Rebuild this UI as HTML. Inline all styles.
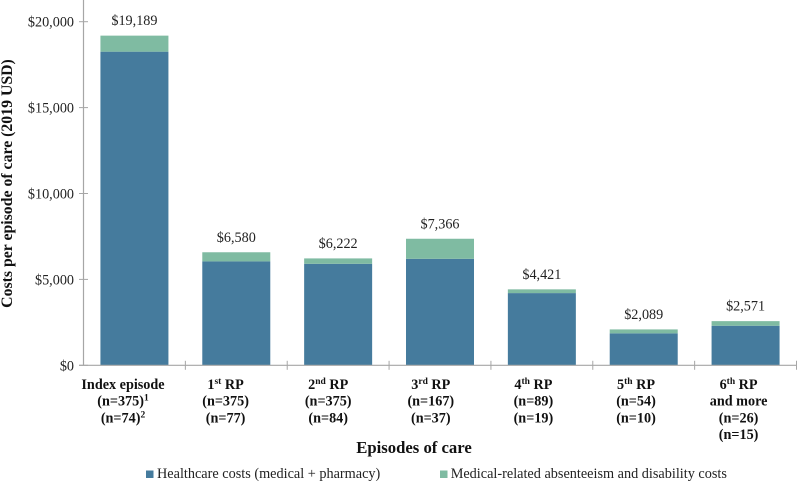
<!DOCTYPE html>
<html lang="en">
<head>
<meta charset="utf-8">
<title>Costs per episode of care</title>
<style>
html,body{margin:0;padding:0;background:#fff;}
svg{display:block;font-family:"Liberation Serif","Times New Roman",serif;}
</style>
</head>
<body>
<svg id="chart" xmlns="http://www.w3.org/2000/svg" width="797" height="482" viewBox="0 0 797 482">
  <rect x="0" y="0" width="797" height="482" fill="#ffffff"/>
  <text transform="translate(12,183.5) rotate(-90)" text-anchor="middle" font-size="15.8" font-weight="bold" fill="#111">Costs per episode of care (2019 USD)</text>
  <text x="414" y="453" text-anchor="middle" font-size="16.7" font-weight="bold" fill="#111">Episodes of care</text>
  <g>
    <rect x="146" y="470.5" width="7.5" height="7.5" fill="#457b9d"/>
    <text x="157" y="478" font-size="14.25" fill="#222">Healthcare costs (medical + pharmacy)</text>
    <rect x="440" y="470.5" width="7.5" height="7.5" fill="#7fbba2"/>
    <text x="450.7" y="478" font-size="14.25" fill="#222">Medical-related absenteeism and disability costs</text>
  </g>
</svg>
<script>
var categoryLabels = [
  ["Index episode", "(n=375)^1", "(n=74)^2"],
  ["1^st RP", "(n=375)", "(n=77)"],
  ["2^nd RP", "(n=375)", "(n=84)"],
  ["3^rd RP", "(n=167)", "(n=37)"],
  ["4^th RP", "(n=89)", "(n=19)"],
  ["5^th RP", "(n=54)", "(n=10)"],
  ["6^th RP", "and more", "(n=26)", "(n=15)"]
];
var healthcareCosts = [18256, 6047, 5907, 6198, 4203, 1860, 2302];
var absenteeismCosts = [933, 533, 315, 1168, 218, 229, 269];
var totalLabels = ["$19,189", "$6,580", "$6,222", "$7,366", "$4,421", "$2,089", "$2,571"];
var yTickValues = [0, 5000, 10000, 15000, 20000];
var yTickLabels = ["$0", "$5,000", "$10,000", "$15,000", "$20,000"];

var NS = "http://www.w3.org/2000/svg";
var svg = document.getElementById("chart");
var plot = { left: 83.5, right: 796.5, top: 21.7, bottom: 365.3, yMax: 20000 };
var BAR_WIDTH = 68;
var LABEL_FIRST_X = 123;
var LABEL_STEP_X = 102.6;

function yScale(v) {
  return plot.bottom - (v / plot.yMax) * (plot.bottom - plot.top);
}
function bandWidth() {
  return (plot.right - plot.left) / categoryLabels.length;
}
function xScale(i) {
  return plot.left + bandWidth() * i;
}
function xCenter(i) {
  return xScale(i) + bandWidth() / 2;
}
function labelX(i) {
  return LABEL_FIRST_X + LABEL_STEP_X * i;
}
function make(tag, attrs) {
  var el = document.createElementNS(NS, tag);
  for (var k in attrs) { el.setAttribute(k, attrs[k]); }
  return el;
}

categoryLabels.forEach(function (lines, i) {
  var cx = xCenter(i);
  var base = healthcareCosts[i];
  var top = base + absenteeismCosts[i];

  var blue = make("rect", {
    x: cx - BAR_WIDTH / 2, y: yScale(base), width: BAR_WIDTH,
    height: yScale(0) - yScale(base), fill: "#457b9d"
  });
  
  
  svg.appendChild(blue);

  var green = make("rect", {
    x: cx - BAR_WIDTH / 2, y: yScale(top), width: BAR_WIDTH,
    height: yScale(base) - yScale(top), fill: "#7fbba2"
  });
  
  
  svg.appendChild(green);

  var total = make("text", {
    x: cx, y: yScale(top) - 10.5, "text-anchor": "middle",
    "font-size": 14.2, fill: "#222"
  });
  total.textContent = totalLabels[i];
  
  
  svg.appendChild(total);

  lines.forEach(function (line, j) {
    var label = make("text", {
      x: labelX(i), y: 389 + j * 16.7, "text-anchor": "middle",
      "font-size": 14.2, "font-weight": "bold", fill: "#111"
    });
    
    
    var m = line.match(/^([^\^]*)\^(\w+)(.*)$/);
    if (m) {
      label.appendChild(document.createTextNode(m[1]));
      var sup = make("tspan", { dy: -5, "font-size": 9.5 });
      sup.textContent = m[2];
      label.appendChild(sup);
      if (m[3]) {
        var rest = make("tspan", { dy: 5 });
        rest.textContent = m[3];
        label.appendChild(rest);
      }
    } else {
      label.textContent = line;
    }
    svg.appendChild(label);
  });
});

var yAxis = make("line", { x1: plot.left, x2: plot.left, y1: 0, y2: plot.bottom, stroke: "#a6a6a6", "stroke-width": 1.2 });


svg.appendChild(yAxis);

var xAxis = make("line", { x1: plot.left - 4.5, x2: plot.right, y1: plot.bottom, y2: plot.bottom, stroke: "#a6a6a6", "stroke-width": 1.2 });


svg.appendChild(xAxis);

yTickValues.forEach(function (v, i) {
  var y = yScale(v);
  var tick = make("line", { x1: plot.left - 4.5, x2: plot.left + 4.5, y1: y, y2: y, stroke: "#a6a6a6", "stroke-width": 1 });
  
  
  svg.appendChild(tick);

  var lab = make("text", { x: 74, y: y + 5, "text-anchor": "end", "font-size": 14.2, fill: "#222" });
  lab.textContent = yTickLabels[i];
  
  
  svg.appendChild(lab);
});

for (var t = 1; t <= categoryLabels.length; t++) {
  var tx = Math.min(xScale(t), plot.right);
  var xt = make("line", { x1: tx, x2: tx, y1: plot.bottom - 4.5, y2: plot.bottom + 4.5, stroke: "#a6a6a6", "stroke-width": 1 });
  
  
  svg.appendChild(xt);
}
</script>
</body>
</html>
